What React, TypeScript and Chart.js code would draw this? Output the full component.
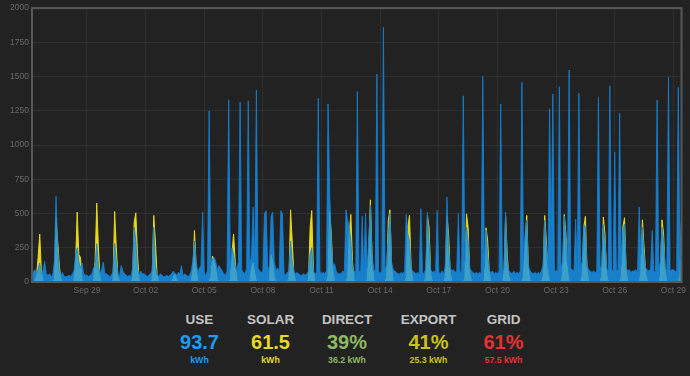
import React, { useEffect, useRef } from 'react';
import { Chart, registerables } from 'chart.js';

Chart.register(...registerables);

// ---- data (2-hour samples starting Sep 26 00:00, watts) ----
const STEP_HOURS = 2;
const TICK_LABELS = ['Sep 29', 'Oct 02', 'Oct 05', 'Oct 08', 'Oct 11', 'Oct 14', 'Oct 17', 'Oct 20', 'Oct 23', 'Oct 26', 'Oct 29'];
const TICK_DAYS = [3, 6, 9, 12, 15, 18, 21, 24, 27, 30, 33];
const Y_MAX = 2000;
const Y_STEP = 250;

const SOLAR_W = [
  0, 0, 0, 0, 10, 40, 180, 350, 80, 5, 0, 0, // Sep 26
  0, 0, 0, 0, 20, 470, 300, 120, 20, 0, 0, 0, // Sep 27
  0, 0, 0, 0, 10, 150, 510, 200, 180, 10, 0, 0, // Sep 28
  0, 0, 0, 0, 10, 150, 576, 260, 30, 0, 0, 0, // Sep 29
  0, 0, 0, 0, 20, 515, 250, 40, 5, 0, 0, 0, // Sep 30
  0, 0, 0, 0, 30, 440, 505, 200, 20, 0, 0, 0, // Oct 01
  0, 0, 0, 0, 20, 486, 300, 60, 5, 0, 0, 0, // Oct 02
  0, 0, 0, 0, 5, 30, 60, 20, 0, 0, 0, 0, // Oct 03
  0, 0, 0, 0, 10, 80, 376, 120, 10, 0, 0, 0, // Oct 04
  0, 0, 0, 0, 40, 190, 170, 100, 20, 0, 0, 0, // Oct 05
  0, 0, 0, 0, 20, 200, 350, 150, 20, 0, 0, 0, // Oct 06
  0, 0, 0, 0, 10, 100, 140, 60, 10, 0, 0, 0, // Oct 07
  0, 0, 0, 0, 10, 200, 150, 40, 5, 0, 0, 0, // Oct 08
  0, 0, 0, 0, 30, 527, 300, 60, 5, 0, 0, 0, // Oct 09
  0, 0, 0, 0, 20, 400, 522, 80, 5, 0, 0, 0, // Oct 10
  0, 0, 0, 0, 50, 510, 350, 80, 10, 0, 0, 0, // Oct 11
  0, 0, 0, 0, 40, 350, 493, 150, 10, 0, 0, 0, // Oct 12
  0, 0, 0, 0, 20, 250, 600, 200, 20, 0, 0, 0, // Oct 13
  0, 0, 0, 0, 40, 450, 527, 120, 10, 0, 0, 0, // Oct 14
  0, 0, 0, 0, 30, 400, 486, 100, 10, 0, 0, 0, // Oct 15
  0, 0, 0, 0, 30, 486, 400, 60, 5, 0, 0, 0, // Oct 16
  0, 0, 0, 0, 40, 486, 350, 60, 5, 0, 0, 0, // Oct 17
  0, 0, 0, 0, 30, 498, 400, 60, 5, 0, 0, 0, // Oct 18
  0, 0, 0, 0, 20, 396, 300, 60, 5, 0, 0, 0, // Oct 19
  0, 0, 0, 0, 60, 480, 200, 40, 5, 0, 0, 0, // Oct 20
  0, 0, 0, 0, 40, 300, 486, 100, 10, 0, 0, 0, // Oct 21
  0, 0, 0, 0, 40, 486, 300, 60, 5, 0, 0, 0, // Oct 22
  0, 0, 0, 0, 60, 493, 350, 80, 5, 0, 0, 0, // Oct 23
  0, 0, 0, 0, 40, 400, 479, 80, 5, 0, 0, 0, // Oct 24
  0, 0, 0, 0, 40, 474, 350, 60, 5, 0, 0, 0, // Oct 25
  0, 0, 0, 0, 40, 400, 469, 80, 5, 0, 0, 0, // Oct 26
  0, 0, 0, 0, 60, 454, 250, 60, 5, 0, 0, 0, // Oct 27
  0, 0, 0, 0, 40, 454, 350, 60, 5, 0, 0, 0, // Oct 28
  0, 0, 0, 0, 40, 462, 300, // Oct 29
];

const USE_W = [
  60, 50, 40, 70, 90, 60, 90, 140, 60, 80, 150, 60, // Sep 26
  50, 60, 40, 50, 150, 625, 250, 80, 50, 70, 40, 40, // Sep 27
  40, 50, 40, 60, 80, 200, 250, 150, 100, 140, 60, 50, // Sep 28
  50, 40, 50, 60, 100, 120, 280, 120, 60, 90, 146, 60, // Sep 29
  60, 50, 40, 50, 80, 280, 150, 60, 40, 120, 80, 60, // Sep 30
  50, 40, 50, 40, 100, 400, 300, 100, 50, 80, 60, 60, // Oct 01
  50, 40, 50, 60, 80, 400, 120, 60, 40, 60, 50, 40, // Oct 02
  40, 50, 40, 50, 60, 80, 60, 50, 70, 60, 120, 40, // Oct 03
  60, 50, 40, 50, 80, 150, 300, 150, 70, 100, 120, 510, // Oct 04
  60, 50, 80, 1250, 120, 170, 180, 150, 90, 120, 100, 80, // Oct 05
  60, 50, 80, 1330, 100, 250, 200, 120, 80, 150, 1312, 90, // Oct 06
  70, 60, 100, 1324, 120, 200, 547, 150, 1402, 100, 80, 70, // Oct 07
  80, 500, 520, 80, 120, 480, 510, 150, 90, 100, 80, 520, // Oct 08
  500, 60, 50, 70, 80, 300, 150, 80, 60, 70, 60, 50, // Oct 09
  50, 60, 50, 60, 80, 200, 250, 80, 60, 70, 1341, 80, // Oct 10
  60, 70, 60, 80, 1300, 650, 300, 120, 134, 80, 60, 60, // Oct 11
  60, 80, 70, 527, 450, 400, 300, 100, 80, 70, 1392, 80, // Oct 12
  70, 480, 60, 500, 100, 300, 560, 200, 80, 90, 1519, 80, // Oct 13
  60, 80, 1860, 100, 120, 350, 500, 150, 90, 80, 70, 60, // Oct 14
  60, 70, 60, 80, 493, 350, 300, 100, 80, 70, 60, 70, // Oct 15
  60, 535, 70, 60, 100, 510, 300, 90, 70, 80, 60, 522, // Oct 16
  70, 60, 80, 60, 120, 620, 250, 100, 80, 90, 70, 80, // Oct 17
  500, 80, 60, 1361, 150, 400, 300, 100, 80, 70, 60, 70, // Oct 18
  60, 70, 60, 1500, 100, 377, 200, 80, 70, 80, 60, 70, // Oct 19
  60, 80, 1300, 80, 100, 510, 150, 80, 70, 60, 80, 60, // Oct 20
  70, 60, 80, 1458, 150, 350, 450, 120, 80, 70, 60, 70, // Oct 21
  60, 70, 60, 80, 120, 450, 250, 100, 1264, 300, 1373, 80, // Oct 22
  80, 90, 1426, 100, 150, 480, 300, 120, 1548, 100, 90, 80, // Oct 23
  460, 80, 1378, 100, 150, 420, 400, 120, 90, 80, 70, 80, // Oct 24
  70, 80, 1349, 100, 120, 420, 300, 100, 80, 1434, 90, 80, // Oct 25
  948, 80, 90, 1232, 120, 380, 420, 100, 80, 90, 70, 80, // Oct 26
  80, 90, 70, 547, 200, 400, 200, 100, 90, 80, 90, 377, // Oct 27
  80, 70, 1330, 100, 150, 400, 300, 100, 90, 1495, 80, 90, // Oct 28
  90, 80, 70, 1422, 150, 440, 300, // Oct 29
];

const STAT_LABELS = ['USE', 'SOLAR', 'DIRECT', 'EXPORT', 'GRID'];
const STAT_VALUES = ['93.7', '61.5', '39%', '41%', '61%'];
const STAT_UNITS = ['kWh', 'kWh', '36.2 kWh', '25.3 kWh', '57.5 kWh'];

// ---- layout / style ----
const X_MIN_H = 4.5;
const X_MAX_H = 802;
const STAT_CENTERS = [199.5, 270.5, 347, 428.5, 503.5];
const STAT_COLORS = ['#1c9cf0', '#e6da1c', '#8fb862', '#c9c11e', '#e23232'];
const FONT = '"Liberation Sans", Arial, Helvetica, sans-serif';

const framePlugin = {
  id: 'frame',
  afterDatasetsDraw(chart: any) {
    const { ctx, chartArea } = chart;
    const { left, top, right, bottom } = chartArea;
    ctx.save();
    ctx.strokeStyle = '#585858';
    ctx.lineWidth = 2;
    ctx.strokeRect(left, top, right - left, bottom - top);
    ctx.restore();
  },
};

export default function App() {
  const ref = useRef<HTMLCanvasElement>(null);

  useEffect(() => {
    const toPoints = (arr: number[]) => arr.map((y, i) => ({ x: i * STEP_HOURS, y }));
    const tickHours = TICK_DAYS.map((d) => d * 24);
    const chart = new Chart(ref.current as HTMLCanvasElement, {
      type: 'line',
      data: {
        datasets: [
          {
            label: 'Use',
            data: toPoints(USE_W),
            borderColor: 'rgba(20,128,210,0.85)',
            backgroundColor: 'rgba(22,148,240,0.82)',
            borderWidth: 1,
            fill: 'origin',
            pointRadius: 0,
            tension: 0,
          },
          {
            label: 'Solar',
            data: toPoints(SOLAR_W),
            borderColor: '#e8d91a',
            backgroundColor: '#e8d91a',
            borderWidth: 1,
            fill: 'origin',
            pointRadius: 0,
            tension: 0,
          },
        ],
      },
      options: {
        responsive: false,
        animation: false,
        devicePixelRatio: 1,
        events: [],
        layout: { padding: { left: 0, right: 8, top: 7, bottom: 0 } },
        plugins: { legend: { display: false }, tooltip: { enabled: false } },
        scales: {
          x: {
            type: 'linear',
            min: X_MIN_H,
            max: X_MAX_H,
            afterBuildTicks: (scale: any) => {
              scale.ticks = tickHours.map((v) => ({ value: v }));
            },
            afterFit: (scale: any) => {
              scale.height = 18;
            },
            grid: { color: 'rgba(255,255,255,0.055)', drawTicks: false },
            border: { display: false },
            ticks: {
              autoSkip: false,
              maxRotation: 0,
              padding: 4,
              color: '#6a6a6a',
              font: { family: FONT, size: 8.5 },
              callback: (v: any) => {
                const idx = tickHours.indexOf(Number(v));
                return idx >= 0 ? TICK_LABELS[idx] : '';
              },
            },
          },
          y: {
            min: 0,
            max: Y_MAX,
            afterFit: (scale: any) => {
              scale.width = 32;
            },
            grid: { color: 'rgba(255,255,255,0.055)', drawTicks: false },
            border: { display: false },
            ticks: {
              stepSize: Y_STEP,
              padding: 3,
              color: '#6a6a6a',
              font: { family: FONT, size: 8.5 },
              callback: (v: any) => String(v),
            },
          },
        },
      },
      plugins: [framePlugin],
    });
    return () => chart.destroy();
  }, []);

  return (
    <div
      style={{
        position: 'absolute',
        left: 0,
        top: 0,
        width: 690,
        height: 376,
        background: '#222222',
        overflow: 'hidden',
        fontFamily: FONT,
      }}
    >
      <canvas
        ref={ref}
        width={690}
        height={300}
        style={{ position: 'absolute', left: 0, top: 0, width: 690, height: 300 }}
      />
      {STAT_LABELS.map((label, i) => (
        <div key={label}>
          <div
            style={{
              position: 'absolute',
              left: STAT_CENTERS[i] - 60,
              width: 120,
              top: 313,
              textAlign: 'center',
              fontSize: 13.5,
              lineHeight: '13.5px',
              fontWeight: 'bold',
              color: '#c4c4c4',
            }}
          >
            {label}
          </div>
          <div
            style={{
              position: 'absolute',
              left: STAT_CENTERS[i] - 60,
              width: 120,
              top: 331.8,
              textAlign: 'center',
              fontSize: 20,
              lineHeight: '20px',
              fontWeight: 'bold',
              color: STAT_COLORS[i],
            }}
          >
            {STAT_VALUES[i]}
          </div>
          <div
            style={{
              position: 'absolute',
              left: STAT_CENTERS[i] - 60,
              width: 120,
              top: 356.1,
              textAlign: 'center',
              fontSize: 8.75,
              lineHeight: '8.75px',
              fontWeight: 'bold',
              color: STAT_COLORS[i],
            }}
          >
            {STAT_UNITS[i]}
          </div>
        </div>
      ))}
    </div>
  );
}
